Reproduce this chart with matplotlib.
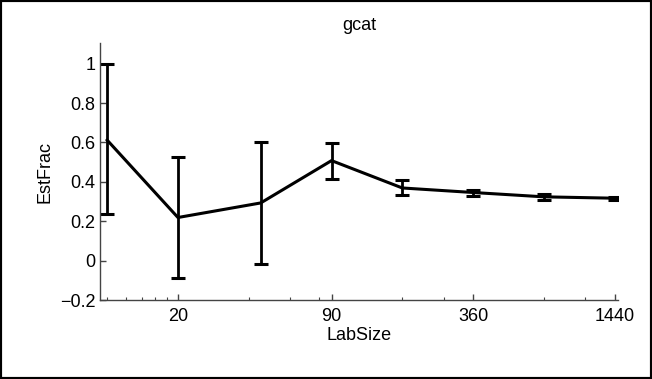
import matplotlib
matplotlib.use("Agg")
import matplotlib.pyplot as plt
from matplotlib.patches import Rectangle
from matplotlib.ticker import FixedLocator, NullFormatter

plt.rcParams["font.family"] = ["Liberation Sans", "DejaVu Sans"]

# data
lab_size = [10, 20, 45, 90, 180, 360, 720, 1440]
est_frac = [0.612, 0.219, 0.293, 0.508, 0.369, 0.346, 0.324, 0.317]
err_low = [0.239, -0.088, -0.019, 0.417, 0.332, 0.329, 0.310, 0.307]
err_high = [1.0, 0.527, 0.603, 0.595, 0.408, 0.361, 0.339, 0.325]

x_ticks = [20, 90, 360, 1440]
x_minor = [10, 12, 14, 16, 18, 40, 60, 80, 180, 270, 720, 1080]
y_ticks = [-0.2, 0, 0.2, 0.4, 0.6, 0.8, 1]

lower = [v - lo for v, lo in zip(est_frac, err_low)]
upper = [hi - v for v, hi in zip(est_frac, err_high)]

fig = plt.figure(figsize=(6.52, 3.79), dpi=100)
ax = fig.add_axes([0.153, 0.2084, 0.795, 0.677])

ax.errorbar(lab_size, est_frac, yerr=[lower, upper], color="black",
            lw=2.2, elinewidth=2.0, capsize=5, capthick=2.2)

ax.set_xscale("log")
ax.set_xlim(9.3, 1490)
ax.set_ylim(-0.2, 1.103)

ax.xaxis.set_major_locator(FixedLocator(x_ticks))
ax.xaxis.set_minor_locator(FixedLocator(x_minor))
ax.xaxis.set_minor_formatter(NullFormatter())
ax.set_xticklabels([str(t) for t in x_ticks])
ax.set_yticks(y_ticks)
ax.set_yticklabels(["\u22120.2", "0", "0.2", "0.4", "0.6", "0.8", "1"])

for side in ("top", "right"):
    ax.spines[side].set_visible(False)
for side in ("left", "bottom"):
    ax.spines[side].set_color("#444444")
    ax.spines[side].set_linewidth(1.0)

ax.tick_params(axis="both", which="major", direction="in", length=4,
               width=1.0, color="#444444", labelsize=13, labelcolor="black")
ax.tick_params(axis="x", which="major", pad=6)
ax.tick_params(axis="y", which="major", pad=3)
ax.tick_params(axis="x", which="minor", direction="in", length=2.5,
               width=0.8, color="#444444")

ax.set_title("gcat", fontsize=13, pad=10)
ax.set_xlabel("LabSize", fontsize=13, labelpad=1)
ax.set_ylabel("EstFrac", fontsize=13, labelpad=5)

fig.patches.append(Rectangle((0, 0), 1, 1, transform=fig.transFigure,
                             fill=False, edgecolor="black", lw=3))

fig.savefig("out.png", dpi=100)
